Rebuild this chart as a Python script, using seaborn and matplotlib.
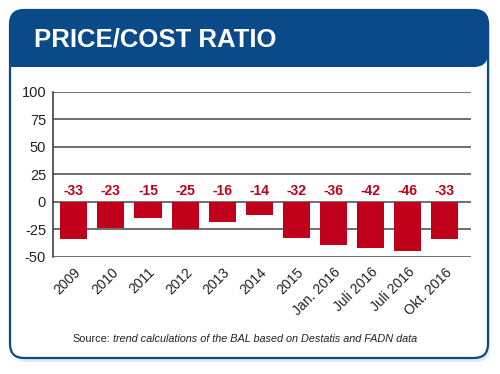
import matplotlib
matplotlib.use("Agg")
import matplotlib.pyplot as plt
import seaborn as sns
import pandas as pd
from matplotlib.patches import FancyBboxPatch, Rectangle

# data
periods = ["2009", "2010", "2011", "2012", "2013", "2014", "2015",
           "Jan. 2016", "Juli 2016", "Juli 2016 ", "Okt. 2016"]
bar_values = [-34, -24, -15, -25, -18, -12, -33, -39, -42, -45, -34]
label_values = [-33, -23, -15, -25, -16, -14, -32, -36, -42, -46, -33]
y_ticks = [-50, -25, 0, 25, 50, 75, 100]

BLUE = "#0b4a88"
RED = "#c0001a"

sns.set_style("white")
plt.rcParams['font.family'] = ['Liberation Sans', 'DejaVu Sans']

df = pd.DataFrame({"period": periods, "value": bar_values})

fig = plt.figure(figsize=(5, 3.74), dpi=100)

# card background drawn in pixel coords
bg = fig.add_axes([0, 0, 1, 1])
bg.set_xlim(0, 500)
bg.set_ylim(374, 0)
bg.axis("off")
bg.add_patch(FancyBboxPatch((13, 13), 477, 349, boxstyle="round,pad=0,rounding_size=14",
                            fc="#d5d9de", ec="none", alpha=0.6))
bg.add_patch(FancyBboxPatch((10, 10), 478, 348, boxstyle="round,pad=0,rounding_size=14",
                            fc="white", ec=BLUE, lw=1.6))
bg.add_patch(FancyBboxPatch((10, 10), 478, 57, boxstyle="round,pad=0,rounding_size=14",
                            fc=BLUE, ec="none"))
bg.add_patch(Rectangle((10, 40), 30, 27, fc=BLUE, ec="none"))
bg.text(34, 39, "PRICE/COST RATIO", color="white", fontsize=18.5, fontweight="bold",
        va="center", ha="left")
src = bg.text(72, 339, "Source:", fontsize=7.8, ha="left", va="center", color="#222222")
bg.annotate("trend calculations of the BAL based on Destatis and FADN data",
            xy=(1, 0.5), xycoords=src, xytext=(2.5, 0), textcoords="offset points",
            fontsize=7.8, style="italic", ha="left", va="center", color="#222222")

ax = fig.add_axes([0.106, 0.313, 0.835, 0.442])
ax.patch.set_alpha(0)
sns.barplot(data=df, x="period", y="value", color=RED, saturation=1, width=0.73,
            linewidth=0, ax=ax, zorder=2)

for i, v in enumerate(label_values):
    ax.text(i, 10, f"{v}", color=RED, fontsize=10, fontweight="bold",
            ha="center", va="center")

ax.set_ylim(-50, 100)
ax.set_xlim(-0.56, 10.69)
ax.set_yticks(y_ticks)
ax.set_yticklabels([str(t) for t in y_ticks], fontsize=10.5, color="#222222")
for t in y_ticks:
    ax.axhline(t, color="#555555", lw=1.2, zorder=0)
ax.set_xticks(range(len(periods)))
ax.set_xticklabels([p.strip() for p in periods], rotation=45, ha="right",
                   rotation_mode="anchor", fontsize=10, color="#222222")
ax.tick_params(axis="x", length=0, pad=6)
ax.tick_params(axis="y", length=0, pad=5)
ax.set_xlabel("")
ax.set_ylabel("")
for s in ["top", "right", "bottom"]:
    ax.spines[s].set_visible(False)
ax.spines["left"].set_color("#333333")
ax.spines["left"].set_linewidth(1.1)

fig.savefig("out.png", dpi=100)
